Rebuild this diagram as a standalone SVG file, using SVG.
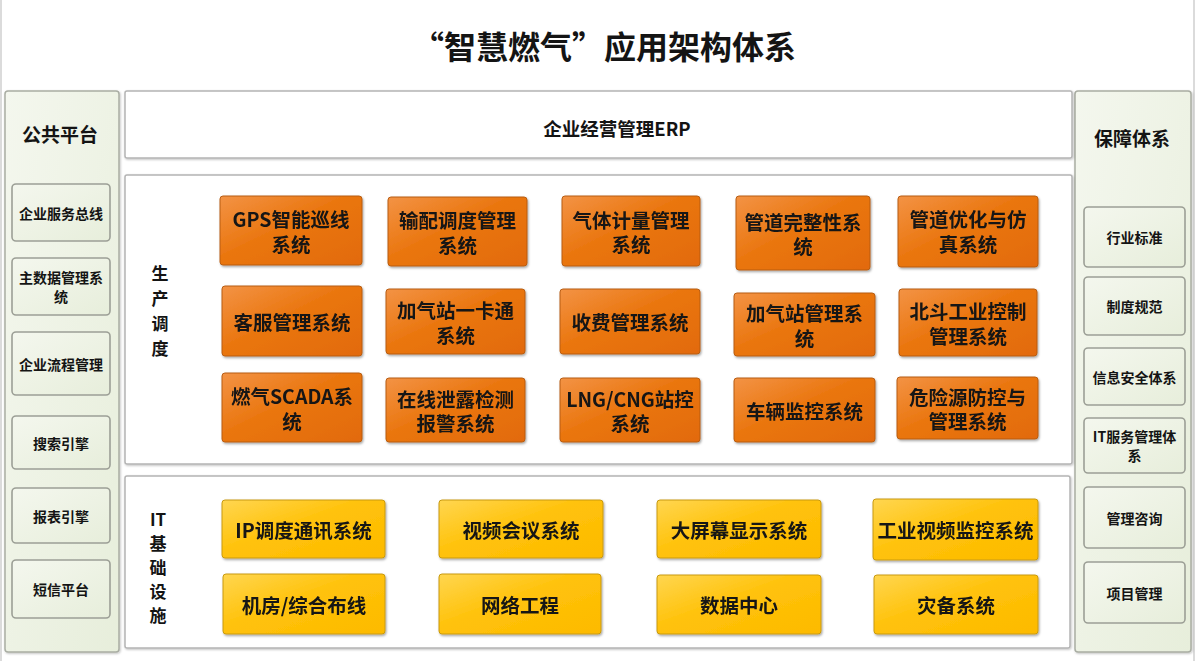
<svg xmlns="http://www.w3.org/2000/svg" width="1196" height="661" viewBox="0 0 1196 661">
<defs>
<linearGradient id="gOr" x1="0" y1="0" x2="1" y2="1">
<stop offset="0" stop-color="#F39345"/>
<stop offset="0.45" stop-color="#EA760F"/>
<stop offset="1" stop-color="#E26A08"/>
</linearGradient>
<linearGradient id="gYe" x1="0" y1="0" x2="1" y2="1">
<stop offset="0" stop-color="#FFD650"/>
<stop offset="0.45" stop-color="#FFC20A"/>
<stop offset="1" stop-color="#FDBA00"/>
</linearGradient>
<linearGradient id="gGr" x1="0" y1="0" x2="1" y2="1">
<stop offset="0" stop-color="#F4F7EE"/>
<stop offset="1" stop-color="#E7EEDB"/>
</linearGradient>
<filter id="sh" x="-10%" y="-10%" width="125%" height="130%">
<feDropShadow dx="1" dy="1.5" stdDeviation="1" flood-color="#000" flood-opacity="0.35"/>
</filter>
<filter id="sh2" x="-5%" y="-5%" width="110%" height="115%">
<feDropShadow dx="0.8" dy="1" stdDeviation="0.8" flood-color="#000" flood-opacity="0.25"/>
</filter>
</defs>
<style>
.t{font-family:"Noto Sans CJK SC","Open Sans",sans-serif;font-weight:bold;fill:#141414;text-anchor:middle;dominant-baseline:central}
.big{font-size:19.5px}
.sm{font-size:14px}
.pt{font-size:19px}
.vl{font-size:17px}
.panel{fill:#fff;stroke:#b4b4b4;stroke-width:1.5}
.side{fill:url(#gGr);stroke:#a9ada3;stroke-width:1.5}
.sbox{fill:url(#gGr);stroke:#9c9f96;stroke-width:1.6}
.or{fill:url(#gOr);stroke:#b85d12;stroke-width:1}
.ye{fill:url(#gYe);stroke:#c99a10;stroke-width:1}
</style>
<rect x="0" y="0" width="1196" height="661" fill="#fff"/>
<line x1="1" y1="0" x2="1" y2="661" stroke="#cfcfcf" stroke-width="1.5"/>
<line x1="1194" y1="0" x2="1194" y2="661" stroke="#cfcfcf" stroke-width="1.5"/>

<g id="title"><text class="t" x="604" y="45" style="font-size:32px">“智慧燃气”应用架构体系</text></g>

<g id="public-platform">
<rect class="side" x="5" y="91" width="114" height="561" rx="3" filter="url(#sh2)"/>
<text class="t pt" x="60" y="133">公共平台</text>
</g>
<g id="n-esb"><rect class="sbox" x="12" y="184" width="98" height="57" rx="4"/><text class="t sm" x="61" y="212.5">企业服务总线</text></g>
<g id="n-mdm"><rect class="sbox" x="12" y="258" width="98" height="57" rx="4"/><text class="t sm" x="61" y="277">主数据管理系<tspan x="61" dy="19">统</tspan></text></g>
<g id="n-bpm"><rect class="sbox" x="12" y="332" width="98" height="63" rx="4"/><text class="t sm" x="61" y="363.5">企业流程管理</text></g>
<g id="n-search"><rect class="sbox" x="12" y="416" width="98" height="53" rx="4"/><text class="t sm" x="61" y="442.5">搜索引擎</text></g>
<g id="n-report"><rect class="sbox" x="12" y="488" width="98" height="55" rx="4"/><text class="t sm" x="61" y="515.5">报表引擎</text></g>
<g id="n-sms"><rect class="sbox" x="12" y="560" width="98" height="58" rx="4"/><text class="t sm" x="61" y="589">短信平台</text></g>

<g id="guarantee">
<rect class="side" x="1075" y="91" width="116" height="561" rx="3" filter="url(#sh2)"/>
<text class="t pt" x="1132" y="137">保障体系</text>
</g>
<g id="n-std"><rect class="sbox" x="1084" y="207" width="101" height="60" rx="4"/><text class="t sm" x="1134.5" y="237">行业标准</text></g>
<g id="n-rule"><rect class="sbox" x="1084" y="277" width="101" height="58" rx="4"/><text class="t sm" x="1134.5" y="306">制度规范</text></g>
<g id="n-sec"><rect class="sbox" x="1084" y="348" width="101" height="57" rx="4"/><text class="t sm" x="1134.5" y="376.5">信息安全体系</text></g>
<g id="n-itsm"><rect class="sbox" x="1084" y="418" width="101" height="55" rx="4"/><text class="t sm" x="1134.5" y="436">IT服务管理体<tspan x="1134.5" dy="19">系</tspan></text></g>
<g id="n-consult"><rect class="sbox" x="1084" y="487" width="101" height="61" rx="4"/><text class="t sm" x="1134.5" y="517.5">管理咨询</text></g>
<g id="n-pm"><rect class="sbox" x="1084" y="562" width="101" height="61" rx="4"/><text class="t sm" x="1134.5" y="592.5">项目管理</text></g>

<g id="erp"><rect class="panel" x="125" y="91" width="947" height="67" rx="2" filter="url(#sh2)"/><text class="t" x="617" y="128" style="font-size:18.5px">企业经营管理ERP</text></g>

<g id="production">
<rect class="panel" x="125" y="175" width="947" height="289" rx="2" filter="url(#sh2)"/>
<text class="t vl" x="160" y="272">生<tspan x="160" dy="25">产</tspan><tspan x="160" dy="25">调</tspan><tspan x="160" dy="25">度</tspan></text>
</g>
<g id="n-gps" filter="url(#sh)"><rect class="or" x="220" y="196" width="142" height="69" rx="3"/><text class="t big" x="291" y="218.5">GPS智能巡线<tspan x="291" dy="24">系统</tspan></text></g>
<g id="n-dispatch" filter="url(#sh)"><rect class="or" x="388" y="197" width="139" height="69" rx="3"/><text class="t big" x="457.5" y="219.5">输配调度管理<tspan x="457.5" dy="24">系统</tspan></text></g>
<g id="n-meter" filter="url(#sh)"><rect class="or" x="562" y="196" width="138" height="70" rx="3"/><text class="t big" x="631" y="219">气体计量管理<tspan x="631" dy="24">系统</tspan></text></g>
<g id="n-integrity" filter="url(#sh)"><rect class="or" x="736" y="196" width="134" height="74" rx="3"/><text class="t big" x="803" y="221">管道完整性系<tspan x="803" dy="24">统</tspan></text></g>
<g id="n-optim" filter="url(#sh)"><rect class="or" x="898" y="196" width="140" height="71" rx="3"/><text class="t big" x="968" y="218.5">管道优化与仿<tspan x="968" dy="24">真系统</tspan></text></g>

<g id="n-cs" filter="url(#sh)"><rect class="or" x="222" y="286" width="140" height="70" rx="3"/><text class="t big" x="292" y="321">客服管理系统</text></g>
<g id="n-card" filter="url(#sh)"><rect class="or" x="386" y="289" width="139" height="65" rx="3"/><text class="t big" x="455.5" y="309.5">加气站一卡通<tspan x="455.5" dy="24">系统</tspan></text></g>
<g id="n-fee" filter="url(#sh)"><rect class="or" x="560" y="289" width="140" height="65" rx="3"/><text class="t big" x="630" y="321.5">收费管理系统</text></g>
<g id="n-station" filter="url(#sh)"><rect class="or" x="734" y="293" width="141" height="63" rx="3"/><text class="t big" x="804.5" y="312.5">加气站管理系<tspan x="804.5" dy="24">统</tspan></text></g>
<g id="n-beidou" filter="url(#sh)"><rect class="or" x="899" y="289" width="138" height="67" rx="3"/><text class="t big" x="968" y="310.5">北斗工业控制<tspan x="968" dy="24">管理系统</tspan></text></g>

<g id="n-scada" filter="url(#sh)"><rect class="or" x="222" y="373" width="140" height="69" rx="3"/><text class="t big" x="292" y="395.5">燃气SCADA系<tspan x="292" dy="24">统</tspan></text></g>
<g id="n-leak" filter="url(#sh)"><rect class="or" x="386" y="378" width="139" height="64" rx="3"/><text class="t big" x="455.5" y="398">在线泄露检测<tspan x="455.5" dy="24">报警系统</tspan></text></g>
<g id="n-lng" filter="url(#sh)"><rect class="or" x="560" y="378" width="140" height="64" rx="3"/><text class="t big" x="630" y="398">LNG/CNG站控<tspan x="630" dy="24">系统</tspan></text></g>
<g id="n-vehicle" filter="url(#sh)"><rect class="or" x="734" y="378" width="141" height="64" rx="3"/><text class="t big" x="804.5" y="410">车辆监控系统</text></g>
<g id="n-hazard" filter="url(#sh)"><rect class="or" x="897" y="377" width="141" height="62" rx="3"/><text class="t big" x="967.5" y="396">危险源防控与<tspan x="967.5" dy="24">管理系统</tspan></text></g>

<g id="it-infra">
<rect class="panel" x="125" y="476" width="945" height="172" rx="2" filter="url(#sh2)"/>
<text class="t vl" x="158" y="518">IT<tspan x="158" dy="24">基</tspan><tspan x="158" dy="24">础</tspan><tspan x="158" dy="24">设</tspan><tspan x="158" dy="24">施</tspan></text>
</g>
<g id="n-ip" filter="url(#sh)"><rect class="ye" x="222" y="500" width="163" height="58" rx="3"/><text class="t big" x="303.5" y="529">IP调度通讯系统</text></g>
<g id="n-video" filter="url(#sh)"><rect class="ye" x="439" y="500" width="164" height="58" rx="3"/><text class="t big" x="521" y="529">视频会议系统</text></g>
<g id="n-screen" filter="url(#sh)"><rect class="ye" x="657" y="500" width="164" height="58" rx="3"/><text class="t big" x="739" y="529">大屏幕显示系统</text></g>
<g id="n-cctv" filter="url(#sh)"><rect class="ye" x="873" y="499" width="165" height="61" rx="3"/><text class="t big" x="955.5" y="529.5">工业视频监控系统</text></g>
<g id="n-room" filter="url(#sh)"><rect class="ye" x="223" y="574" width="162" height="60" rx="3"/><text class="t big" x="304" y="604">机房/综合布线</text></g>
<g id="n-net" filter="url(#sh)"><rect class="ye" x="439" y="574" width="162" height="60" rx="3"/><text class="t big" x="520" y="604">网络工程</text></g>
<g id="n-dc" filter="url(#sh)"><rect class="ye" x="657" y="575" width="164" height="59" rx="3"/><text class="t big" x="739" y="604.5">数据中心</text></g>
<g id="n-dr" filter="url(#sh)"><rect class="ye" x="874" y="575" width="164" height="59" rx="3"/><text class="t big" x="956" y="604.5">灾备系统</text></g>
<g id="connectors"/>
</svg>
